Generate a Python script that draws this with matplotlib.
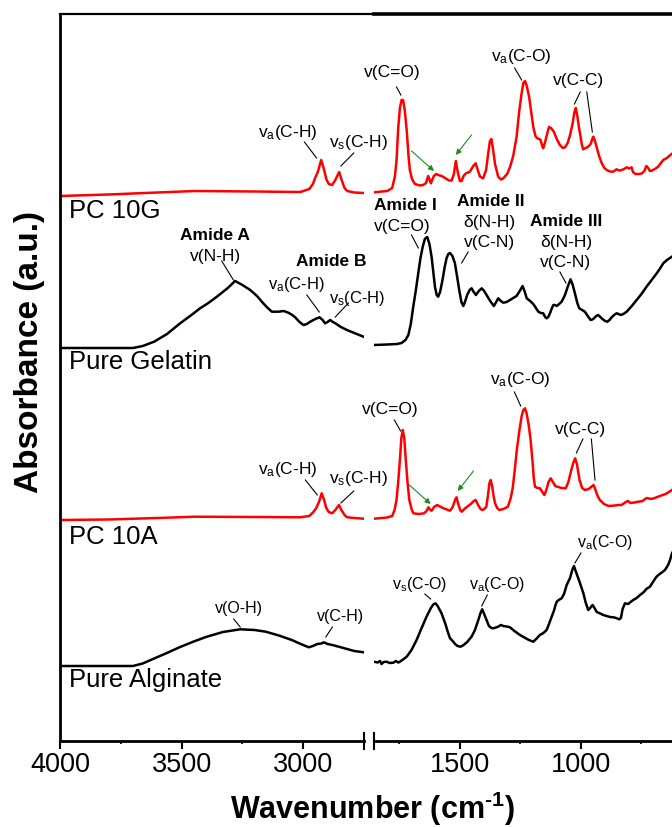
import numpy as np
import matplotlib.pyplot as plt
from matplotlib.lines import Line2D

plt.rcParams['font.family'] = ['Liberation Sans', 'DejaVu Sans']
plt.rcParams['mathtext.fontset'] = 'custom'
plt.rcParams['mathtext.rm'] = 'Liberation Sans'
plt.rcParams['mathtext.bf'] = 'Liberation Sans:bold'
plt.rcParams['mathtext.it'] = 'Liberation Sans:italic'

# --- spectra (absorbance, arbitrary units), high and low wavenumber regions ---
wn_10g_hi = [4000, 3800, 3600, 3444, 3200, 3012, 2975, 2960, 2951, 2940, 2926, 2916, 2905, 2895,
             2881, 2868, 2852, 2842, 2830, 2819, 2790, 2751]
ab_10g_hi = [0, 1.5, 3.5, 5, 4.5, 4, 7, 12, 18, 24, 36, 28, 17, 12,
             11, 16, 24, 16, 8, 5, 3.5, 3]
wn_10g_lo = [1855, 1800, 1780, 1769, 1762, 1755, 1748, 1741, 1735, 1728, 1720, 1713, 1707, 1698,
             1686, 1665, 1652, 1640, 1631, 1625, 1620, 1613, 1607, 1598, 1590, 1575, 1562, 1545,
             1534, 1525, 1517, 1510, 1500, 1493, 1485, 1475, 1459, 1445, 1435, 1425, 1417, 1404,
             1392, 1383, 1376, 1370, 1364, 1355, 1342, 1330, 1321, 1305, 1293, 1280, 1266, 1255,
             1245, 1238, 1231, 1224, 1214, 1205, 1197, 1188, 1181, 1172, 1167, 1160, 1156, 1148,
             1140, 1132, 1124, 1112, 1100, 1087, 1075, 1066, 1055, 1045, 1035, 1027, 1021, 1015,
             1008, 1004, 997, 991, 980, 970, 960, 952, 949, 942, 935, 925, 914, 903, 894, 880,
             867, 853, 843, 832, 822, 811, 800, 791, 785, 775, 760, 749, 738, 730, 722, 715,
             708, 695, 681, 670, 660, 645, 631, 615, 600]
ab_10g_lo = [3.7, 5, 8, 19, 35, 68, 88, 96, 96, 86, 66, 42, 26, 17,
             12, 10.5, 11, 13, 20, 16, 12.7, 17, 20.3, 22, 21, 20, 18, 15.5,
             15.5, 22, 35, 25, 15, 15, 20, 22.7, 24.3, 30, 32.7, 25, 19.3, 17.7,
             26, 43, 55, 57, 48, 32, 19.3, 16.5, 17.7, 22, 29, 40, 59, 85,
             103, 113, 115, 110, 99, 83, 69, 60, 57.7, 57, 56, 50, 47.7, 54,
             62, 69, 68, 64.3, 57, 51, 48, 48.7, 53, 61, 72, 84, 88, 80,
             68, 62.7, 52, 46.7, 48, 49.3, 52, 58, 59.3, 55, 48.7, 40, 32.7, 28, 26, 24.5,
             24.3, 26.7, 25.5, 26, 27, 28.7, 27.5, 28.7, 24, 22, 22, 22.5, 25, 30, 28, 25,
             25.3, 27, 29.3, 33, 36, 38, 41, 44, 47]

wn_gel_hi = [4000, 3850, 3700, 3660, 3613, 3560, 3506, 3465, 3424, 3390, 3355, 3310, 3280, 3250,
             3218, 3190, 3170, 3150, 3129, 3102, 3080, 3061, 3045, 3033, 3015, 2999, 2985, 2971,
             2950, 2933, 2920, 2910, 2900, 2889, 2878, 2868, 2845, 2820, 2790, 2752]
ab_gel_hi = [0, 0, 0, 2, 6.3, 14, 24.7, 32, 39.7, 45, 51.3, 60, 67, 63,
             58, 52, 46.3, 41, 36.3, 36.3, 37, 35.3, 33, 30.7, 26, 23, 24, 26.3,
             29, 30.7, 28, 24.7, 26, 28, 26, 24.7, 21, 18, 15, 11.3]
wn_gel_lo = [1855, 1800, 1760, 1741, 1725, 1713, 1703, 1693, 1682, 1672, 1663, 1654, 1645, 1635,
             1626, 1617, 1610, 1603, 1596, 1590, 1582, 1572, 1563, 1555, 1548, 1541, 1531, 1521,
             1512, 1503, 1494, 1486, 1478, 1470, 1460, 1452, 1443, 1434, 1422, 1410, 1400, 1390,
             1375, 1360, 1350, 1342, 1331, 1321, 1307, 1293, 1280, 1266, 1253, 1241, 1232, 1224,
             1210, 1197, 1186, 1176, 1166, 1156, 1148, 1142, 1135, 1128, 1120, 1114, 1107, 1100,
             1090, 1080, 1072, 1066, 1055, 1043, 1034, 1025, 1015, 1007, 995, 984, 972, 960,
             953, 946, 937, 929, 920, 910, 900, 891, 882, 873, 863, 853, 845, 836, 825, 811,
             790, 770, 750, 729, 708, 687, 672, 660, 645, 624, 600]
ab_gel_lo = [3, 3.5, 4, 5, 8, 13, 24, 41, 58, 75, 90, 101, 109, 111,
             104, 91, 76, 61, 53, 51.3, 56, 68, 81, 90, 94, 95, 92, 85,
             72, 58, 46, 42, 47, 53, 58, 59.7, 56, 53, 57, 59.7, 57, 53,
             47, 42, 46, 49.7, 47, 45.3, 46, 48, 50, 52, 57, 62, 56, 49.7,
             47, 44, 40, 36.3, 35, 34.7, 31, 29.7, 31, 34.7, 40, 43, 43, 42,
             44, 46.3, 50, 53, 61, 68.7, 63, 54.7, 45, 39.7, 38, 36.3, 32, 28,
             28.5, 29.7, 32, 33, 31, 28.7, 27, 26.3, 28, 30.7, 33, 34.7, 34, 33, 34, 36.3,
             42, 48, 54, 61.3, 68, 74.7, 80, 84.7, 88, 91.3, 96]

wn_10a_hi = [4000, 3800, 3600, 3444, 3200, 3012, 2975, 2958, 2947, 2935, 2924, 2914, 2905, 2895,
             2881, 2868, 2853, 2843, 2830, 2819, 2790, 2751]
ab_10a_hi = [0, 0.5, 2, 3.3, 3, 2.7, 4, 8, 11.7, 18, 26.7, 20, 12, 8,
             6.7, 10, 15, 10, 5, 2.7, 2, 1.3]
wn_10a_lo = [1855, 1800, 1780, 1770, 1762, 1755, 1748, 1742, 1736, 1730, 1723, 1716, 1709, 1700,
             1692, 1670, 1648, 1638, 1630, 1624, 1617, 1607, 1594, 1575, 1560, 1541, 1530, 1520,
             1514, 1507, 1498, 1492, 1482, 1470, 1455, 1443, 1435, 1425, 1415, 1408, 1399, 1391,
             1384, 1378, 1373, 1367, 1361, 1355, 1346, 1337, 1320, 1302, 1290, 1282, 1275, 1265,
             1254, 1245, 1238, 1231, 1224, 1216, 1208, 1200, 1195, 1190, 1180, 1169, 1160, 1151,
             1143, 1134, 1125, 1116, 1106, 1098, 1080, 1063, 1052, 1040, 1032, 1024, 1016, 1006,
             995, 984, 968, 958, 948, 940, 931, 922, 905, 886, 860, 845, 833, 820, 815, 806,
             795, 780, 762, 745, 735, 728, 723, 710, 695, 674, 650, 624, 600]
ab_10a_lo = [1.3, 2.5, 4, 10, 20, 38, 60, 82, 90, 82, 58, 36, 20, 11,
             6.7, 6, 6.7, 9, 12.7, 10.5, 9.3, 13, 15, 12.5, 11, 9.3, 13, 20,
             22.7, 16, 9.5, 8.3, 11, 13.3, 16, 19, 20, 15, 11, 10, 11, 13.3,
             25, 37, 40, 34, 24, 16.7, 12, 10, 11, 13.3, 22, 32, 46.7, 70,
             90, 104, 110, 111.7, 106, 95, 80, 58, 42, 33.3, 32, 31.7, 28, 25,
             30, 38, 41.7, 38, 34, 33.3, 32, 31.7, 38, 50, 57, 61.7, 55, 40,
             32, 30, 31, 33, 35, 30, 24, 20, 16, 14, 14.5, 15, 15, 17, 18, 19,
             17, 17.5, 18.3, 19, 21, 22, 21.7, 21, 22, 24, 26, 30, 35]

wn_alg_hi = [4000, 3850, 3700, 3660, 3630, 3570, 3506, 3450, 3400, 3330, 3259, 3200, 3154, 3100,
             3047, 3010, 2977, 2960, 2942, 2925, 2915, 2900, 2880, 2854, 2820, 2790, 2751]
ab_alg_hi = [0, 0, 0, 2.5, 5.7, 12, 19, 24.5, 29, 34, 36.7, 36, 34.3, 30.5,
             26, 22, 18.7, 20, 22, 22.5, 23.7, 22, 21, 19.3, 17, 15, 13.7]
wn_alg_lo = [1855, 1840, 1830, 1824, 1815, 1803, 1790, 1775, 1765, 1755, 1748, 1735, 1720, 1700,
             1679, 1660, 1638, 1620, 1610, 1601, 1592, 1576, 1560, 1550, 1541, 1530, 1520, 1510,
             1497, 1485, 1470, 1452, 1438, 1424, 1415, 1408, 1400, 1390, 1380, 1370, 1362, 1345,
             1330, 1321, 1307, 1293, 1275, 1252, 1230, 1215, 1197, 1185, 1170, 1155, 1142, 1132,
             1121, 1112, 1105, 1100, 1092, 1080, 1070, 1059, 1045, 1036, 1029, 1022, 1011, 1000,
             990, 980, 970, 962, 952, 944, 935, 922, 908, 894, 880, 866, 855, 842, 835, 828,
             818, 805, 795, 784, 770, 756, 740, 730, 715, 700, 688, 675, 663, 653, 640, 632,
             624, 612, 600]
ab_alg_lo = [4.3, 3.5, 5, 2, 4, 4.3, 3, 3.3, 5, 3.5, 4.3, 6.5, 9.3, 16,
             26, 37, 49.3, 58, 61.5, 62.7, 60, 52.7, 42, 34, 27.7, 25, 22, 20,
             19.3, 21, 24, 29.3, 36, 46, 53, 56.7, 52, 46, 40, 38, 37.7, 39,
             41, 40, 39.5, 38.7, 35, 31, 28, 26, 24.3, 27, 31, 33, 36, 42,
             49.3, 55, 61, 64.3, 66, 67.7, 72, 81, 88, 96, 100, 95, 87.7, 80,
             72.7, 63, 56, 58, 61, 58, 54, 52.7, 51, 50, 49, 48.7, 48, 46.7, 48, 57,
             62.7, 62, 64, 66, 68, 71, 74, 77, 79.3, 85, 89.3, 92, 94, 96, 101, 106,
             112.7, 118, 125]

# stacking: (high region, low region, vertical offset, colour, name)
spectra = [
    (wn_10g_hi, ab_10g_hi, wn_10g_lo, ab_10g_lo, 545, 'red', 'PC 10G'),
    (wn_gel_hi, ab_gel_hi, wn_gel_lo, ab_gel_lo, 393, 'black', 'Pure Gelatin'),
    (wn_10a_hi, ab_10a_hi, wn_10a_lo, ab_10a_lo, 221, 'red', 'PC 10A'),
    (wn_alg_hi, ab_alg_hi, wn_alg_lo, ab_alg_lo, 75, 'black', 'Pure Alginate'),
]

W, H = 672, 827
fig = plt.figure(figsize=(W / 100, H / 100), dpi=100)
ax1 = fig.add_axes([60 / W, 1 - 741 / H, 304 / W, 727 / H])
ax2 = fig.add_axes([374 / W, 1 - 741 / H, 352.2 / W, 727 / H])
ax2.set_facecolor('none')

for wh, ah, wl, al, off, col, name in spectra:
    ax1.plot(wh, np.array(ah) + off, color=col, lw=1.8, solid_joinstyle='round')
    ax2.plot(wl, np.array(al) + off, color=col, lw=1.8, solid_joinstyle='round')

names_y = {'PC 10G': 530, 'Pure Gelatin': 379, 'PC 10A': 204, 'Pure Alginate': 61}
for name, y in names_y.items():
    ax1.text(3961, y, name, fontsize=18.5, ha='left', va='center')

for ax in (ax1, ax2):
    ax.set_ylim(0, 727)
    ax.set_yticks([])
    ax.tick_params(axis='x', which='major', direction='out', length=5.8, width=1.5,
                   labelsize=19.5, pad=2)
    ax.tick_params(axis='x', which='minor', direction='out', length=2.5, width=1.3)
    ax.spines['right'].set_visible(False)
    ax.spines['bottom'].set_linewidth(2)

ax1.set_xlim(4000, 2750)
ax1.set_xticks([4000, 3500, 3000])
ax1.set_xticks([3750, 3250], minor=True)
ax1.spines['left'].set_linewidth(2)
ax1.spines['top'].set_visible(False)

ax2.set_xlim(1855, 400)
ax2.set_xticks([1500, 1000])
ax2.set_xticks([1750, 1250, 750], minor=True)
ax2.spines['left'].set_visible(False)
ax2.spines['top'].set_linewidth(2.6)

# thin top edge over the left panel and the gap
fig.add_artist(Line2D([60 / W, 375 / W], [1 - 14 / H] * 2, lw=1.6, color='black'))

# axis break marks
for ax, xa in ((ax1, 1), (ax2, 0)):
    ax.plot([xa, xa], [-0.011, 0.011], transform=ax.transAxes, color='black',
            lw=1.5, clip_on=False)

fig.text(30 / W, 1 - 352 / H, 'Absorbance (a.u.)', rotation=90, fontsize=24,
         fontweight='bold', ha='center', va='center')
fig.text(372 / W, 8.5 / H, 'Wavenumber (cm$^{\\mathbf{\u2010}\\mathbf{1}}$)', fontsize=22,
         fontweight='bold', ha='center', va='baseline')

# band assignments
va_ = r'v$_{\mathregular{a}}$'
vs_ = r'v$_{\mathregular{s}}$'
labels = [
    (ax2, 'v(C=O)', 1781, 668, 12.5, 'normal'),
    (ax2, va_ + '(C-O)', 1247, 684, 12.5, 'normal'),
    (ax2, 'v(C-C)', 1012, 661, 12.5, 'normal'),
    (ax1, va_ + '(C-H)', 3062, 608, 12.5, 'normal'),
    (ax1, vs_ + '(C-H)', 2774, 599, 12.5, 'normal'),
    (ax1, 'Amide A', 3362, 505, 12.5, 'bold'),
    (ax1, 'v(N-H)', 3360, 485, 12.5, 'normal'),
    (ax1, 'Amide B', 2886, 479, 12.5, 'bold'),
    (ax1, va_ + '(C-H)', 3026, 456, 12, 'normal'),
    (ax1, vs_ + '(C-H)', 2777, 443, 12, 'normal'),
    (ax2, 'Amide I', 1727, 536, 12.5, 'bold'),
    (ax2, 'v(C=O)', 1738, 514, 12.5, 'normal'),
    (ax2, 'Amide II', 1373, 540, 12.5, 'bold'),
    (ax2, 'δ(N-H)', 1379, 519, 12.5, 'normal'),
    (ax2, 'v(C-N)', 1376, 499, 12.5, 'normal'),
    (ax2, 'Amide III', 1062, 520, 12.5, 'bold'),
    (ax2, 'δ(N-H)', 1062, 499, 12.5, 'normal'),
    (ax2, 'v(C-N)', 1062, 478, 12.5, 'normal'),
    (ax2, 'v(C=O)', 1789, 331, 12.5, 'normal'),
    (ax2, va_ + '(C-O)', 1249, 361, 12.5, 'normal'),
    (ax2, 'v(C-C)', 1001, 311, 12.5, 'normal'),
    (ax1, va_ + '(C-H)', 3062, 271, 12.5, 'normal'),
    (ax1, vs_ + '(C-H)', 2774, 262, 12.5, 'normal'),
    (ax1, 'v(O-H)', 3263, 132, 11.5, 'normal'),
    (ax1, 'v(C-H)', 2845, 125, 11.5, 'normal'),
    (ax2, vs_ + '(C-O)', 1665, 156, 11.5, 'normal'),
    (ax2, va_ + '(C-O)', 1346, 156, 11.5, 'normal'),
    (ax2, va_ + '(C-O)', 901, 198, 11.5, 'normal'),
]
for ax, txt, x, y, fs, fw in labels:
    ax.text(x, y, txt, fontsize=fs, fontweight=fw, ha='center', va='center', zorder=5)

leaders = [
    (ax2, 1762, 654, 1744, 646), (ax2, 1274, 673, 1245, 661),
    (ax2, 1003, 649, 1027, 637), (ax2, 976, 649, 953, 609),
    (ax1, 2995, 599, 2945, 583), (ax1, 2792, 588, 2845, 575),
    (ax1, 3335, 480, 3287, 461), (ax1, 2985, 446, 2934, 429),
    (ax1, 2814, 438, 2868, 424),
    (ax2, 1700, 506, 1672, 493), (ax2, 1466, 489, 1493, 478),
    (ax2, 1087, 469, 1062, 458),
    (ax2, 1771, 321, 1745, 310), (ax2, 1275, 349, 1249, 335),
    (ax2, 992, 302, 1019, 288), (ax2, 957, 302, 942, 261),
    (ax1, 2991, 261, 2942, 246), (ax1, 2792, 250, 2845, 238),
    (ax1, 3286, 122, 3259, 114), (ax1, 2880, 114, 2907, 104),
    (ax2, 1645, 147, 1621, 142), (ax2, 1387, 146, 1410, 135),
    (ax2, 1000, 188, 1025, 178),
]
for ax, x0, y0, x1, y1 in leaders:
    ax.plot([x0, x1], [y0, y1], color='black', lw=0.8, clip_on=False)

# green arrows pointing at the gelatin-related bands in the composites
arrows = [(1700, 590, 1607, 570), (1452, 606, 1517, 586),
          (1709, 256, 1621, 237), (1444, 270, 1509, 250)]
for x0, y0, x1, y1 in arrows:
    ax2.annotate('', xy=(x1, y1), xytext=(x0, y0),
                 arrowprops=dict(arrowstyle='-|>', color='#1f8a1f', lw=0.8,
                                 mutation_scale=8, shrinkA=0, shrinkB=0))

fig.savefig('out.png', dpi=100)
